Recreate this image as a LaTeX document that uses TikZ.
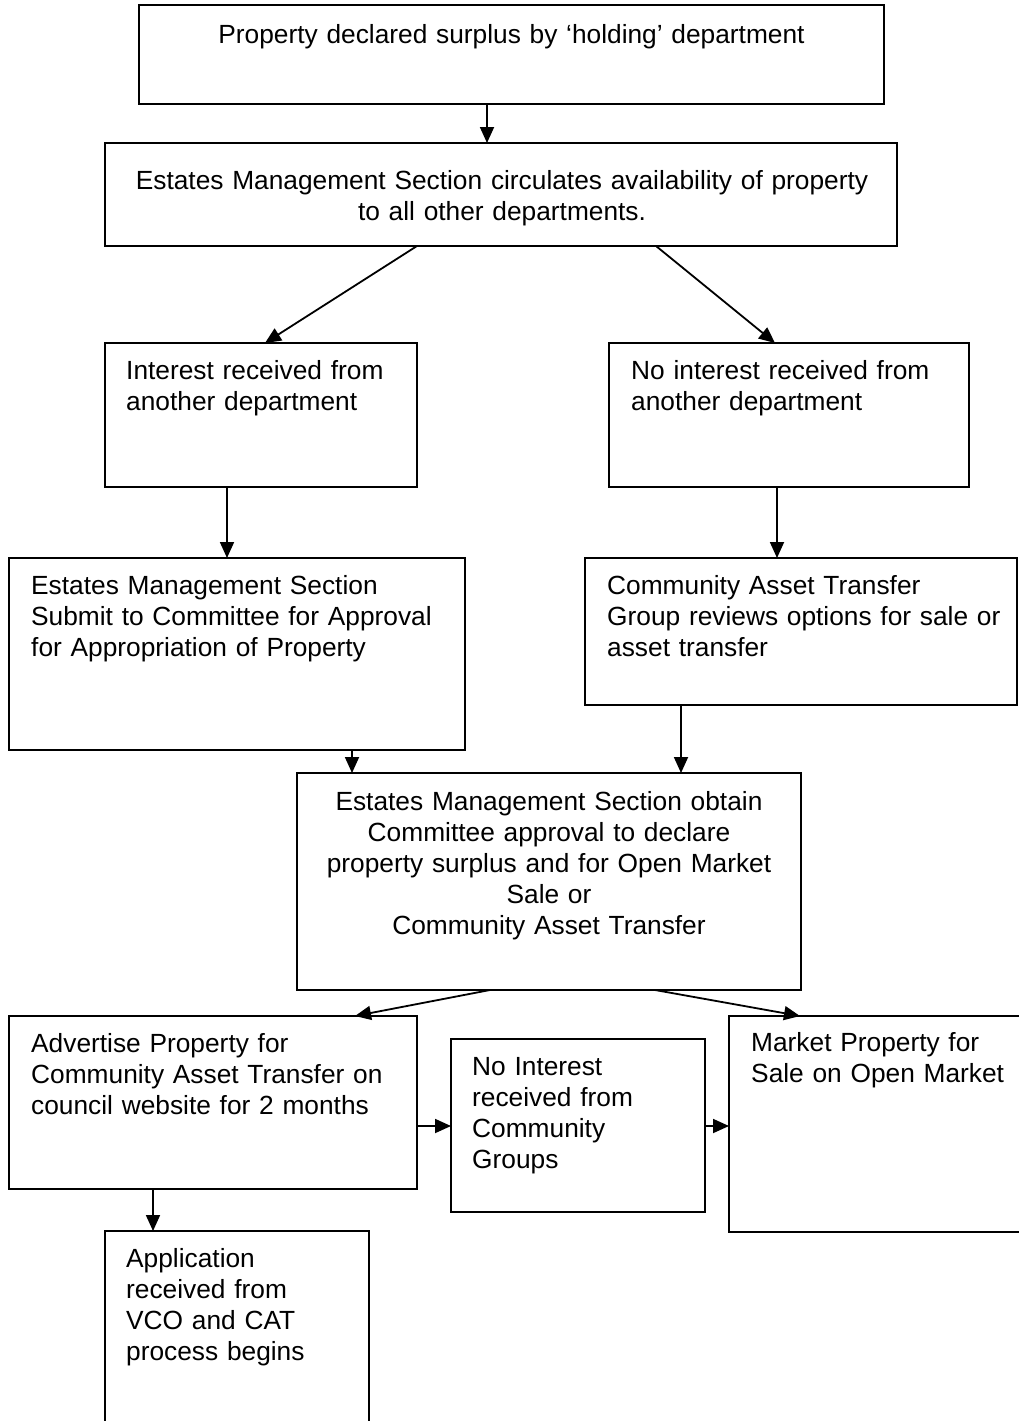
\documentclass[tikz,border=0pt]{standalone}
\usepackage{fontspec}
\setmainfont{Liberation Sans}
\usetikzlibrary{arrows.meta}
\begin{document}
\begin{tikzpicture}[x=1pt,y=-1pt,
  box/.style={draw,line width=1.6pt,outer sep=0pt,inner sep=0pt},
  txt/.style={anchor=base west,inner sep=0pt,align=left,font=\fontsize{26.3}{31}\selectfont},
  ctxt/.style={anchor=base,inner sep=0pt,align=center,font=\fontsize{26.3}{31}\selectfont},
  arr/.style={line width=1.8pt,-{Triangle[length=16pt,width=14pt]}}]
\useasboundingbox (0,0) rectangle (1019,1421);
\clip (0,0) rectangle (1019,1421);
\fill[white] (0,0) rectangle (1019,1421);
% boxes
\node[box,minimum width=745pt,minimum height=99pt] (b1) at (511.5,54.5) {};
\node[box,minimum width=792pt,minimum height=103pt] (b2) at (501,194.5) {};
\node[box,minimum width=312pt,minimum height=144pt] (b3) at (261,415) {};
\node[box,minimum width=360pt,minimum height=144pt] (b4) at (789,415) {};
\node[box,minimum width=456pt,minimum height=192pt] (b5) at (237,654) {};
\node[box,minimum width=432pt,minimum height=147pt] (b6) at (801,631.5) {};
\node[box,minimum width=504pt,minimum height=217pt] (b7) at (549,881.5) {};
\node[box,minimum width=408pt,minimum height=173pt] (b8) at (213,1102.5) {};
\node[box,minimum width=254pt,minimum height=173pt] (b9) at (578,1125.5) {};
\node[box,minimum width=311pt,minimum height=216pt] (b10) at (884.5,1124) {};
\node[box,minimum width=264pt,minimum height=209pt] (b11) at (237,1335.5) {};
% texts
\node[ctxt,text width=745pt] (t1) at (511.5,44) {Property declared surplus by ‘holding’ department};
\node[ctxt,text width=792pt] (t2) at (502,189) {Estates Management Section circulates availability of property\\to all other departments.};
\node[txt,text width=290pt] (t3) at (126,379) {Interest received from\\another department};
\node[txt,text width=330pt] (t4) at (631,379) {No interest received from\\another department};
\node[txt,text width=430pt] (t5) at (31,594) {Estates Management Section\\Submit to Committee for Approval\\for Appropriation of Property};
\node[txt,text width=410pt] (t6) at (607,594) {Community Asset Transfer\\Group reviews options for sale or\\asset transfer};
\node[ctxt,text width=504pt] (t7) at (549,810) {Estates Management Section obtain\\Committee approval to declare\\property surplus and for Open Market\\Sale or\\Community Asset Transfer};
\node[txt,text width=380pt] (t8) at (31,1052) {Advertise Property for\\Community Asset Transfer on\\council website for 2 months};
\node[txt,text width=230pt] (t9) at (472,1075) {No Interest\\received from\\Community\\Groups};
\node[txt,text width=280pt] (t10) at (751,1051) {Market Property for\\Sale on Open Market};
\node[txt,text width=240pt] (t11) at (126,1267) {Application\\received from\\VCO and CAT\\process begins};
% connectors
\draw[arr] ([xshift=-24.5pt]b1.south) -- ([xshift=-14pt]b2.north);
\draw[arr] ([xshift=-84pt]b2.south) -- ([xshift=4pt]b3.north);
\draw[arr] ([xshift=155pt]b2.south) -- ([xshift=-14pt]b4.north);
\draw[arr] ([xshift=-34pt]b3.south) -- ([xshift=-10pt]b5.north);
\draw[arr] ([xshift=-12pt]b4.south) -- ([xshift=-24pt]b6.north);
\draw[arr] ([xshift=115pt]b5.south) -- ([xshift=-197pt]b7.north);
\draw[arr] ([xshift=-120pt]b6.south) -- ([xshift=132pt]b7.north);
\draw[arr] ([xshift=-59pt]b7.south) -- ([xshift=142pt]b8.north);
\draw[arr] ([xshift=106pt]b7.south) -- ([xshift=-84.5pt]b10.north);
\draw[arr] ([yshift=-23.5pt]b8.east) -- ([yshift=-0.5pt]b9.west);
\draw[arr] ([yshift=-0.5pt]b9.east) -- ([yshift=-2pt]b10.west);
\draw[arr] ([xshift=-60pt]b8.south) -- ([xshift=-84pt]b11.north);
\end{tikzpicture}
\end{document}
